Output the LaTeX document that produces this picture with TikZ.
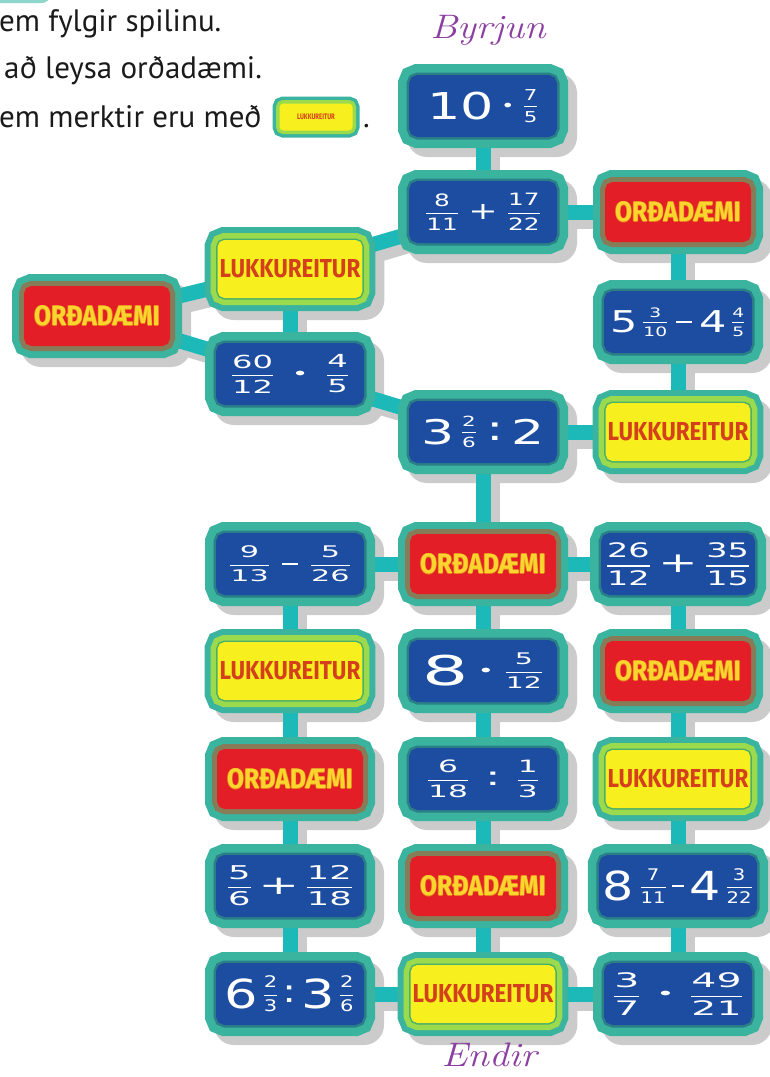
\documentclass[tikz,border=0pt]{standalone}
\usepackage{fontspec}
\usepackage{graphicx}
\usepackage{amsmath}
\newfontfamily\topfont{PT Sans}
\newfontfamily\numfont{DejaVu Sans}
\newfontfamily\labfont{Fira Sans}
\definecolor{tteal}{HTML}{3BB49F}
\definecolor{ltteal}{HTML}{8ED6CB}
\definecolor{tcyan}{HTML}{1DB8B8}
\definecolor{tblue}{HTML}{1C4DA0}
\definecolor{tdark}{HTML}{2A8086}
\definecolor{tred}{HTML}{E31E26}
\definecolor{tolive}{HTML}{877C58}
\definecolor{tyellow}{HTML}{F8EF1E}
\definecolor{tgreen}{HTML}{9BDA4C}
\definecolor{tgdark}{HTML}{48B06A}
\definecolor{shadowc}{HTML}{CBCBCB}
\definecolor{tpurple}{HTML}{8C3FA0}
\definecolor{lukkc}{HTML}{D4401C}
\definecolor{ordfill}{HTML}{FAD52E}
\definecolor{ordline}{HTML}{E8801E}
\definecolor{toptext}{HTML}{1A1A1A}
\newcommand\tfs[1]{\fontsize{#1}{#1}\selectfont}
% vertically centred piece of text at a given size
\newcommand\vc[2]{$\vcenter{\hbox{\tfs{#1}#2}}$}
% vertically centred fraction at a given size
\newcommand\tfr[3]{$\vcenter{\hbox{\tfs{#1}$\genfrac{}{}{1.3pt}{0}{\hbox{#2}}{\hbox{#3}}$}}$}
% centred dot and minus sign
\newcommand\tdot{{\tfs{13}$\bullet$}}
\newcommand\tmin[1]{$\vcenter{\hbox{\rule{#1}{2.2pt}}}$}
\newcommand\fitw[2]{\resizebox{#1}{\height}{#2}}
\newcommand\lukklab{{\labfont\bfseries\tfs{26}\color{lukkc}\scalebox{0.86}[1]{LUKKUREITUR}}}
\newcommand\outl[3]{\leavevmode\rlap{\color{#1}\kern-0.7pt\hbox{#3}}\rlap{\color{#1}\kern0.7pt\hbox{#3}}\rlap{\color{#1}\raise0.7pt\hbox{#3}}\rlap{\color{#1}\lower0.7pt\hbox{#3}}{\color{#2}\hbox{#3}}}
\newcommand\ordlab{{\labfont\bfseries\tfs{28}\scalebox{0.88}[1]{\outl{ordline}{ordfill}{ORÐADÆMI}}}}
\pgfdeclarelayer{shd}
\pgfdeclarelayer{bg}
\pgfsetlayers{shd,bg,main}
\tikzset{
  tile/.style={rectangle, rounded corners=5pt, minimum width=140pt, minimum height=54pt,
    inner sep=0pt, outer sep=0pt, align=center},
  bluetile/.style={tile, preaction={draw=tteal, line width=30pt},
    preaction={draw=tdark, line width=13pt},
    fill=tblue, draw=tblue, line width=8pt, text=white, font=\numfont},
  redtile/.style={tile, preaction={draw=tteal, line width=30pt},
    preaction={draw=tolive, line width=16pt},
    fill=tred, draw=tred, line width=6pt},
  yeltile/.style={tile, preaction={draw=tteal, line width=30pt},
    preaction={draw=tgreen, line width=18pt},
    preaction={draw=tgdark, line width=7pt},
    fill=tyellow, draw=tyellow, line width=4pt},
  minitile/.style={rectangle, rounded corners=3pt, minimum width=71pt, minimum height=25pt,
    inner sep=0pt, outer sep=0pt, preaction={draw=tteal, line width=16pt},
    preaction={draw=tgreen, line width=9pt}, fill=tyellow, draw=tyellow, line width=2pt},
  conn/.style={draw=tcyan, line width=15pt},
  connshd/.style={draw=shadowc, line width=15pt, transform canvas={shift={(9pt,-9pt)}}},
  toptxt/.style={anchor=base west, inner sep=0pt, font=\topfont\tfs{31}, text=toptext},
  title/.style={inner sep=0pt, font=\itshape\tfs{34}, text=tpurple}
}
\begin{document}
\begin{tikzpicture}[x=1pt,y=-1pt]
\useasboundingbox (0,0) rectangle (769,1077);
% partial tile at the top edge
\fill[ltteal, rounded corners=8pt] (-10,-30) rectangle (50,3);
% instructions
\node[toptxt] (l1) at (-1,31) {em fylgir spilinu.};
\node[toptxt] (l2) at (4,78) {að leysa orðadæmi.};
\node[toptxt] (l3) at (-1,127) {em merktir eru með};
\node[minitile] (mini) at (316,117) {{\labfont\bfseries\tfs{8}\color{lukkc}\scalebox{0.75}[1]{LUKKUREITUR}}};
\node[toptxt] (dot) at (363,127) {.};
% titles
\node[title] (start) at (488,30) {\scalebox{1.15}[1]{Byrjun}};
\node[title] (end) at (489,1055) {\scalebox{1.15}[1]{Endir}};
% tiles
\node[bluetile] (t1) at (483,106) {\fitw{112pt}{\vc{37}{10}\hspace{7pt}\tdot\hspace{7pt}\tfr{15}{7}{5}}};
\node[bluetile] (t2) at (483,212) {\fitw{117pt}{\tfr{17}{8}{11}\hspace{6pt}\vc{24}{+}\hspace{6pt}\tfr{17}{17}{22}}};
\node[redtile] (t3) at (678,212) {\ordlab};
\node[yeltile] (t4) at (290,269) {\lukklab};
\node[redtile] (t5) at (97,316) {\ordlab};
\node[bluetile] (t7) at (678,322) {\fitw{136pt}{\vc{30}{5}\hspace{3pt}\tfr{13}{3}{10}\hspace{5pt}\tmin{11pt}\hspace{5pt}\vc{30}{4}\hspace{3pt}\tfr{13}{4}{5}}};
\node[bluetile] (t6) at (290,374) {\fitw{120pt}{\tfr{18}{60}{12}\hspace{11pt}\tdot\hspace{11pt}\tfr{18}{4}{5}}};
\node[bluetile] (t8) at (483,432) {\fitw{124pt}{\vc{34}{3}\hspace{4pt}\tfr{14}{2}{6}\hspace{6pt}\vc{34}{:}\hspace{5pt}\vc{34}{2}}};
\node[yeltile] (t9) at (678,432) {\lukklab};
\node[bluetile] (a1) at (290,564) {\fitw{124pt}{\tfr{16}{9}{13}\hspace{6pt}\tmin{8pt}\hspace{6pt}\tfr{16}{5}{26}}};
\node[redtile] (a2) at (483,564) {\ordlab};
\node[bluetile] (a3) at (678,564) {\fitw{146pt}{\tfr{20}{26}{12}\hspace{4pt}\vc{28}{+}\hspace{4pt}\tfr{20}{35}{15}}};
\node[yeltile] (b1) at (290,671) {\lukklab};
\node[bluetile] (b2) at (483,671) {\fitw{122pt}{\vc{41}{8}\hspace{7pt}\tdot\hspace{7pt}\tfr{16}{5}{12}}};
\node[redtile] (b3) at (678,671) {\ordlab};
\node[redtile] (c1) at (290,779) {\ordlab};
\node[bluetile] (c2) at (483,779) {\fitw{114pt}{\tfr{17}{6}{18}\hspace{8pt}\vc{26}{:}\hspace{8pt}\tfr{17}{1}{3}}};
\node[yeltile] (c3) at (678,779) {\lukklab};
\node[bluetile] (d1) at (290,886) {\fitw{128pt}{\tfr{19}{5}{6}\hspace{3pt}\vc{26}{+}\hspace{3pt}\tfr{19}{12}{18}}};
\node[redtile] (d2) at (483,886) {\ordlab};
\node[bluetile] (d3) at (678,886) {\fitw{150pt}{\vc{40}{8}\hspace{4pt}\tfr{16}{7}{11}\hspace{4pt}\tmin{10pt}\hspace{4pt}\vc{40}{4}\hspace{4pt}\tfr{16}{3}{22}}};
\node[bluetile] (e1) at (290,994) {\fitw{130pt}{\vc{40}{6}\hspace{3pt}\tfr{16}{2}{3}\hspace{3pt}\vc{32}{:}\hspace{3pt}\vc{40}{3}\hspace{3pt}\tfr{16}{2}{6}}};
\node[yeltile] (e2) at (483,994) {\lukklab};
\node[bluetile] (e3) at (678,994) {\fitw{132pt}{\tfr{20}{3}{7}\hspace{9pt}\tdot\hspace{9pt}\tfr{20}{49}{21}}};
% shadows of tiles
\begin{pgfonlayer}{shd}
\foreach \n in {t1,t2,t3,t4,t5,t6,t7,t8,t9,a1,a2,a3,b1,b2,b3,c1,c2,c3,d1,d2,d3,e1,e2,e3}
  \fill[shadowc, rounded corners=20pt] ([shift={(-6pt,-24pt)}]\n.south west) rectangle ([shift={(24pt,6pt)}]\n.north east);
\end{pgfonlayer}
% connectors
\foreach \a/\b in {t1/t2,t2/t3,t2/t4,t4/t5,t4/t6,t5/t6,t6/t8,t3/t7,t7/t9,t8/t9,t8/a2,
  a1/a2,a2/a3,a1/b1,b1/c1,c1/d1,d1/e1,a2/b2,b2/c2,c2/d2,d2/e2,a3/b3,b3/c3,c3/d3,d3/e3,e1/e2,e2/e3}{
  \begin{pgfonlayer}{shd}
    \draw[connshd] (\a.center) -- (\b.center);
  \end{pgfonlayer}
  \begin{pgfonlayer}{bg}
    \draw[conn] (\a.center) -- (\b.center);
  \end{pgfonlayer}
}
\end{tikzpicture}
\end{document}
